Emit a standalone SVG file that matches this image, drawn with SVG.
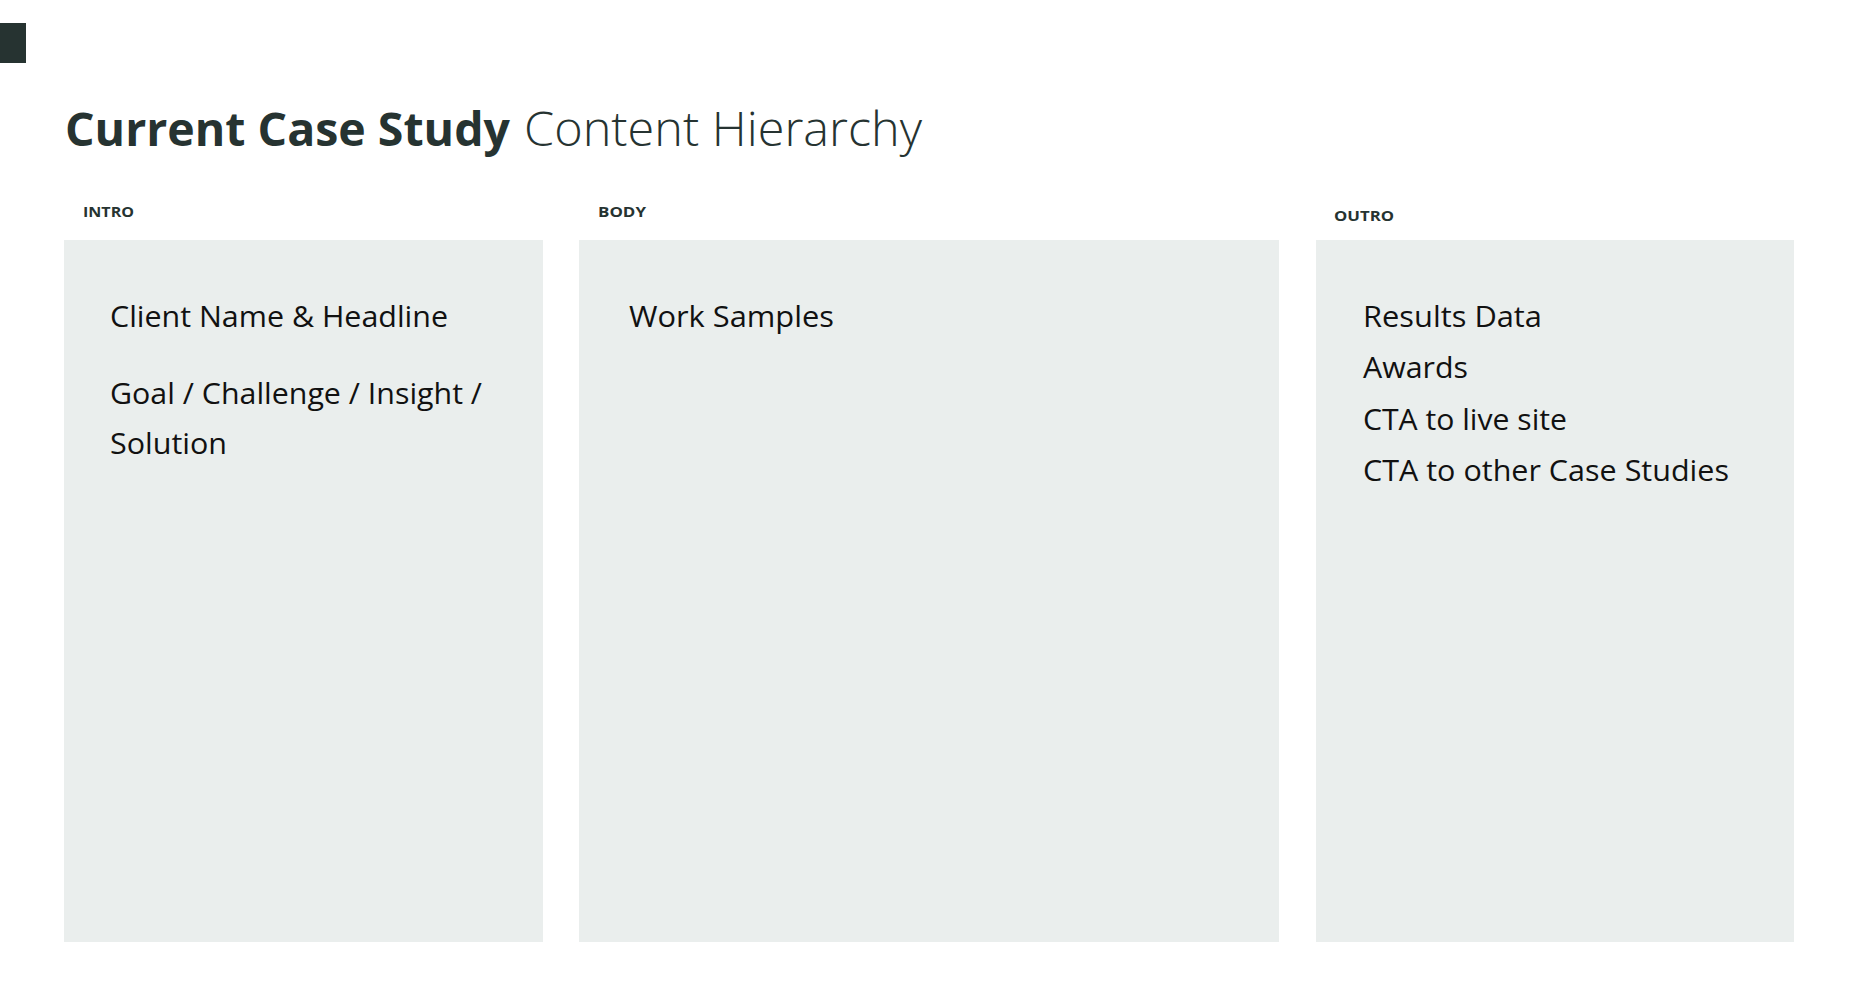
<svg xmlns="http://www.w3.org/2000/svg" width="1858" height="1006" viewBox="0 0 1858 1006">
  <style>
    .panel { fill: #EAEEED; }
    .label { font-family: "Open Sans", "Noto Sans", sans-serif; font-weight: 700; font-size: 14px; fill: #263331; }
    .item { font-family: "Open Sans", "Noto Sans", sans-serif; font-weight: 400; font-size: 29px; fill: #111111; }
    .title-b { font-family: "Open Sans", "Noto Sans", sans-serif; font-weight: 700; font-size: 47px; fill: #263331; }
    .title-l { font-family: "Open Sans", "Noto Sans", sans-serif; font-weight: 300; font-size: 47px; fill: #263331; }
  </style>
  <rect x="0" y="0" width="1858" height="1006" fill="#FFFFFF"/>
  <rect id="corner-mark" x="0" y="23" width="26" height="40" fill="#263331"/>
  <g id="title">
    <text class="title-b" x="65" y="146" textLength="445" lengthAdjust="spacingAndGlyphs">Current Case Study</text>
    <text class="title-l" x="524" y="146" textLength="398" lengthAdjust="spacingAndGlyphs">Content Hierarchy</text>
  </g>
  <g id="intro">
    <text class="label" x="83" y="217" textLength="51" lengthAdjust="spacingAndGlyphs">INTRO</text>
    <rect class="panel" x="64" y="240" width="479" height="702"/>
    <text class="item" x="110" y="327" textLength="338" lengthAdjust="spacingAndGlyphs">Client Name &amp; Headline</text>
    <text class="item" x="110" y="404" textLength="372" lengthAdjust="spacingAndGlyphs">Goal / Challenge / Insight /</text>
    <text class="item" x="110" y="454" textLength="117" lengthAdjust="spacingAndGlyphs">Solution</text>
  </g>
  <g id="body">
    <text class="label" x="598" y="217" textLength="48" lengthAdjust="spacingAndGlyphs">BODY</text>
    <rect class="panel" x="579" y="240" width="700" height="702"/>
    <text class="item" x="629" y="327" textLength="205" lengthAdjust="spacingAndGlyphs">Work Samples</text>
  </g>
  <g id="outro">
    <text class="label" x="1334" y="221" textLength="60" lengthAdjust="spacingAndGlyphs">OUTRO</text>
    <rect class="panel" x="1316" y="240" width="478" height="702"/>
    <text class="item" x="1363" y="327" textLength="179" lengthAdjust="spacingAndGlyphs">Results Data</text>
    <text class="item" x="1363" y="378" textLength="105" lengthAdjust="spacingAndGlyphs">Awards</text>
    <text class="item" x="1363" y="430" textLength="204" lengthAdjust="spacingAndGlyphs">CTA to live site</text>
    <text class="item" x="1363" y="481" textLength="366" lengthAdjust="spacingAndGlyphs">CTA to other Case Studies</text>
  </g>
  <g id="connectors"/>
</svg>
